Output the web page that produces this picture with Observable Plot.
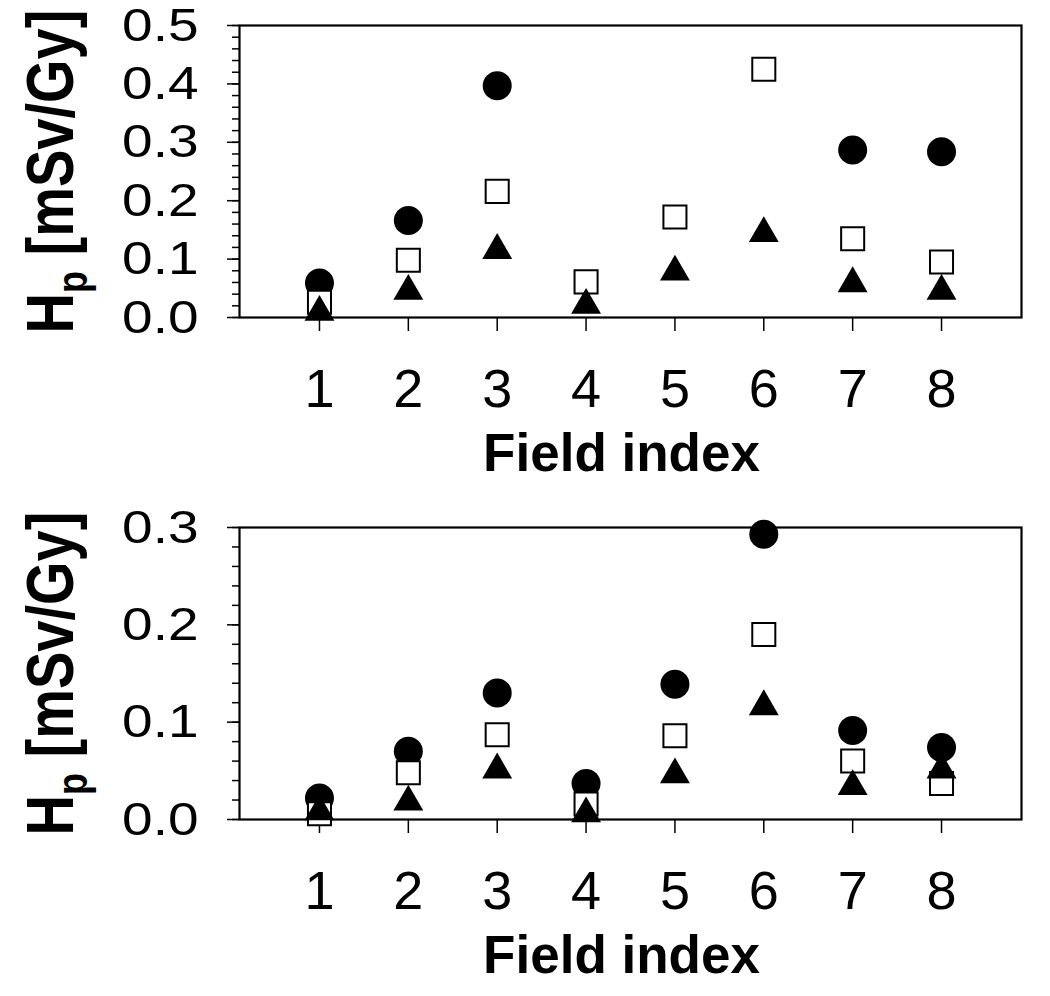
<!DOCTYPE html>
<html><head><meta charset="utf-8">
<script src="https://cdn.jsdelivr.net/npm/d3@7"></script>
<script src="https://cdn.jsdelivr.net/npm/@observablehq/plot@0.6"></script>
<style>
body{margin:0;background:#fff;}
#chart svg{display:block;}
</style></head><body><div id="chart"></div>
<script>
const fieldIndex = [1, 2, 3, 4, 5, 6, 7, 8];
const xTicks = [1, 2, 3, 4, 5, 6, 7, 8];

// top panel
const topCircle   = [0.059, 0.166, 0.397, null, null, null, 0.287, 0.284];
const topSquare   = [0.026, 0.098, 0.216, 0.061, 0.172, 0.425, 0.135, 0.095];
const topTriangle = [0.009, 0.045, 0.115, 0.021, 0.078, 0.144, 0.058, 0.045];
const topMajorTicks = [0, 0.1, 0.2, 0.3, 0.4, 0.5];
const topMinorTicks = d3.range(0, 26).map(i => i * 0.02);

// bottom panel
const bottomCircle   = [0.022, 0.070, 0.130, 0.037, 0.139, 0.293, 0.0915, 0.074];
const bottomSquare   = [0.006, 0.048, 0.087, 0.016, 0.086, 0.190, 0.060, 0.037];
const bottomTriangle = [0.008, 0.018, 0.051, 0.006, 0.046, 0.116, 0.034, 0.051];
const bottomMajorTicks = [0, 0.1, 0.2, 0.3];
const bottomMinorTicks = d3.range(0, 16).map(i => i * 0.02);

const yTitle = "Hp [mSv/Gy]";
const xTitle = "Field index";

const font = "'Liberation Sans', Arial, Helvetica, sans-serif";
const fmt = d3.format(".1f");

function rows(vals) {
  return fieldIndex.map((f, i) => ({field: f, value: vals[i]})).filter(d => d.value != null);
}

function stretch(t, sx, sy) {
  const tr = t.getAttribute("transform");
  if (tr) {
    t.setAttribute("transform", tr + ` scale(${sx},${sy})`);
  } else {
    const x = +t.getAttribute("x") || 0, y = +t.getAttribute("y") || 0;
    t.setAttribute("transform", `translate(${x},${y}) scale(${sx},${sy}) translate(${-x},${-y})`);
  }
}

function panel({circle, square, triangle, ymax, major, minor, marginTop, marginBottom, height}) {
  const svg = Plot.plot({
    width: 1050, height, marginLeft: 239, marginRight: 29, marginTop, marginBottom,
    style: {fontFamily: font, background: "white", color: "black", overflow: "visible"},
    x: {domain: [0.1, 8.9]},
    y: {domain: [0, ymax]},
    marks: [
      Plot.axisY(minor, {tickSize: 7, tickFormat: () => "", label: null, strokeWidth: 1.5}),
      Plot.axisY(major, {tickSize: 12, tickPadding: 29, tickFormat: fmt, fontSize: 47, label: null, strokeWidth: 1.5}),
      Plot.axisX(xTicks, {tickSize: 14, tickPadding: 37, fontSize: 54, label: null, tickFormat: d => String(d), strokeWidth: 1.5}),
      Plot.frame({stroke: "black", strokeWidth: 2.2}),
      Plot.dot(rows(circle), {x: "field", y: "value", r: 14.5, symbol: "circle", fill: "black", stroke: "none"}),
      Plot.dot(rows(square), {x: "field", y: "value", r: 13, symbol: "square", fill: "white", stroke: "black", strokeWidth: 2}),
      Plot.dot(rows(triangle), {x: "field", y: "value", r: 11.1, symbol: "triangle", fill: "black", stroke: "none"}),
      Plot.text([yTitle], {frameAnchor: "left", rotate: -90, dx: -188, fontSize: 56, fontWeight: "bold", textAnchor: "middle", lineAnchor: "middle", fill: "black"}),
      Plot.text([xTitle], {frameAnchor: "bottom", dy: 116, dx: -9, lineAnchor: "top", fontSize: 53, fontWeight: "bold", fill: "black"})
    ]
  });
  const majorLabels = new Set(major.map(fmt));
  svg.querySelectorAll("text").forEach(t => {
    if (t.textContent === yTitle) {
      t.textContent = "";
      const ns = "http://www.w3.org/2000/svg";
      const a = document.createElementNS(ns, "tspan"); a.textContent = "H";
      const b = document.createElementNS(ns, "tspan"); b.textContent = "p";
      b.setAttribute("font-size", "36"); b.setAttribute("dy", "12");
      const c = document.createElementNS(ns, "tspan"); c.textContent = " [mSv/Gy]";
      c.setAttribute("dy", "-12");
      t.append(a, b, c);
      stretch(t, 1, 1.18);
    } else if (majorLabels.has(t.textContent)) {
      stretch(t, 1.17, 1);
    }
  });
  return svg;
}

const chart = document.getElementById("chart");
chart.append(panel({circle: topCircle, square: topSquare, triangle: topTriangle, ymax: 0.5,
  major: topMajorTicks, minor: topMinorTicks, marginTop: 25, marginBottom: 181, height: 498}));
chart.append(panel({circle: bottomCircle, square: bottomSquare, triangle: bottomTriangle, ymax: 0.3,
  major: bottomMajorTicks, minor: bottomMinorTicks, marginTop: 29, marginBottom: 177, height: 498}));
</script></body></html>
